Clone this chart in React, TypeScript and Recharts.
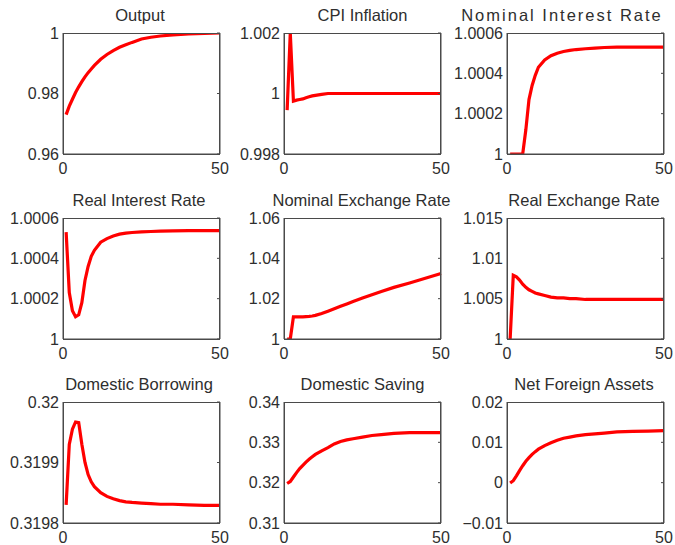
import React from 'react';
import { LineChart, Line, XAxis, YAxis } from 'recharts';

const periods = [1, 2, 3, 4, 5, 6, 7, 8, 9, 10, 12, 14, 16, 18, 20, 22, 25, 28, 31, 35, 40, 45, 50];

const output = [0.973, 0.9758, 0.9781, 0.9803, 0.9822, 0.9839, 0.9855, 0.9869, 0.9881, 0.9893, 0.9913, 0.9929, 0.9942, 0.9953, 0.9961, 0.9969, 0.998, 0.9986, 0.999, 0.9994, 0.9997, 0.9999, 1.0];
const cpiInflation = [0.99945, 1.002, 0.99975, 0.99978, 0.9998, 0.99982, 0.99986, 0.99989, 0.99992, 0.99994, 0.99997, 1.0, 1.0, 1.0, 1.0, 1.0, 1.0, 1.0, 1.0, 1.0, 1.0, 1.0, 1.0];
const nominalInterest = [1.0, 1.0, 1.0, 1.0, 1.0, 1.00012, 1.00027, 1.00034, 1.00039, 1.00043, 1.000466, 1.000487, 1.0005, 1.000508, 1.000514, 1.000518, 1.000522, 1.000525, 1.000528, 1.00053, 1.00053, 1.00053, 1.00053];
const realInterest = [1.00053, 1.00023, 1.00014, 1.00011, 1.00012, 1.00018, 1.00029, 1.00036, 1.00041, 1.00044, 1.00048, 1.000498, 1.000511, 1.00052, 1.000525, 1.000528, 1.000531, 1.000533, 1.000535, 1.000536, 1.000537, 1.000537, 1.000537];
const nominalExchange = [1.0, 1.0, 1.011, 1.011, 1.011, 1.011, 1.0111, 1.0112, 1.0114, 1.0117, 1.0126, 1.0138, 1.015, 1.0162, 1.0174, 1.0186, 1.0203, 1.022, 1.0236, 1.0256, 1.0278, 1.0301, 1.0325];
const realExchange = [1.0, 1.0079, 1.0077, 1.0073, 1.0068, 1.0064, 1.0061, 1.0059, 1.0057, 1.0056, 1.0054, 1.0052, 1.0051, 1.0051, 1.005, 1.005, 1.0049, 1.0049, 1.0049, 1.0049, 1.0049, 1.0049, 1.0049];
const domesticBorrowing = [0.31983, 0.31993, 0.319955, 0.319967, 0.319966, 0.31993, 0.3199, 0.31988, 0.319868, 0.31986, 0.31985, 0.319844, 0.31984, 0.319837, 0.319835, 0.319834, 0.319833, 0.319832, 0.319831, 0.319831, 0.31983, 0.319829, 0.319829];
const domesticSaving = [0.3198, 0.3203, 0.3214, 0.3225, 0.3235, 0.3243, 0.3251, 0.3258, 0.3264, 0.327, 0.3279, 0.3287, 0.3296, 0.3302, 0.3306, 0.3309, 0.3313, 0.3317, 0.3319, 0.3322, 0.3324, 0.3324, 0.3324];
const netForeignAssets = [-0.0001, 0.0005, 0.0017, 0.003, 0.0042, 0.0053, 0.0062, 0.007, 0.0077, 0.0083, 0.0092, 0.0099, 0.0105, 0.011, 0.0113, 0.0116, 0.0119, 0.0121, 0.0123, 0.0126, 0.0127, 0.0128, 0.0129];

const titles = ['Output', 'CPI Inflation', 'Nominal Interest Rate', 'Real Interest Rate', 'Nominal Exchange Rate', 'Real Exchange Rate', 'Domestic Borrowing', 'Domestic Saving', 'Net Foreign Assets'];
const seriesList = [output, cpiInflation, nominalInterest, realInterest, nominalExchange, realExchange, domesticBorrowing, domesticSaving, netForeignAssets];
const yTicks = [
  [0.96, 0.98, 1],
  [0.998, 1, 1.002],
  [1, 1.0002, 1.0004, 1.0006],
  [1, 1.0002, 1.0004, 1.0006],
  [1, 1.02, 1.04, 1.06],
  [1, 1.005, 1.01, 1.015],
  [0.3198, 0.3199, 0.32],
  [0.31, 0.32, 0.33, 0.34],
  [-0.01, 0, 0.01, 0.02],
];
const xTicks = [0, 50];

const colLefts = [63, 284, 507];
const rowTops = [33, 218, 402];
const titleCenters = [140, 362.5, 562, 139, 361.5, 584, 139, 362.5, 584];
const titleSpacing = [0, 0, 2, 0, 0, 0, 0, 0, 0];

const PLOT_W = 156;
const PLOT_H = 121;
const Y_W = 62;
const TOP = 30;
const X_H = 25;
const RIGHT_AXIS_W = 1;
const RIGHT = 9;
const FONT = '"Liberation Sans", Arial, Helvetica, sans-serif';
const TEXT = '#2e2e2e';
const AXIS = '#4a4a4a';

const fmt = (v: number) => String(v).replace('-', '\u2212');
const blank = () => '';

function Panel({ idx }: { idx: number }) {
  const col = idx % 3;
  const row = Math.floor(idx / 3);
  const left = colLefts[col];
  const top = rowTops[row];
  const ticks = yTicks[idx];
  const domain: [number, number] = [ticks[0], ticks[ticks.length - 1]];
  const data = periods.map((t, i) => ({ t, v: seriesList[idx][i] }));
  return (
    <>
      <div
        style={{
          position: 'absolute',
          left: titleCenters[idx] - 150,
          width: 300,
          top: top - 28,
          height: 20,
          lineHeight: '20px',
          textAlign: 'center',
          fontFamily: FONT,
          fontSize: 16.5,
          color: TEXT,
          letterSpacing: titleSpacing[idx],
          whiteSpace: 'nowrap',
        }}
      >
        {titles[idx]}
      </div>
      <div style={{ position: 'absolute', left: left - Y_W, top: top - TOP }}>
        <LineChart
          width={Y_W + PLOT_W + RIGHT_AXIS_W + RIGHT}
          height={TOP + PLOT_H + X_H}
          data={data}
          margin={{ top: TOP, right: RIGHT, bottom: 0, left: 0 }}
        >
          <XAxis
            dataKey="t"
            type="number"
            domain={[0, 50]}
            ticks={xTicks}
            interval={0}
            height={X_H}
            tickLine={false}
            tickSize={0}
            tickMargin={9}
            axisLine={{ stroke: AXIS, strokeWidth: 1 }}
            tick={{ fill: TEXT, fontSize: 16, fontFamily: FONT }}
          />
          <YAxis
            type="number"
            domain={domain}
            ticks={ticks}
            interval={0}
            allowDataOverflow
            width={Y_W}
            tickLine={false}
            tickSize={0}
            tickMargin={4}
            tickFormatter={fmt}
            axisLine={{ stroke: AXIS, strokeWidth: 1 }}
            tick={{ fill: TEXT, fontSize: 16, fontFamily: FONT }}
          />
          <YAxis
            yAxisId="right"
            orientation="right"
            type="number"
            domain={domain}
            ticks={ticks}
            interval={0}
            allowDataOverflow
            width={RIGHT_AXIS_W}
            mirror
            tickSize={3}
            tickFormatter={blank}
            tickLine={{ stroke: AXIS, strokeWidth: 1 }}
            axisLine={{ stroke: AXIS, strokeWidth: 1 }}
          />
          <Line
            yAxisId="right"
            type="linear"
            dataKey="v"
            stroke="none"
            strokeOpacity={0}
            dot={false}
            activeDot={false}
            isAnimationActive={false}
          />
          <Line
            type="linear"
            dataKey="v"
            stroke="#ff0000"
            strokeWidth={3.2}
            dot={false}
            isAnimationActive={false}
          />
        </LineChart>
        <div
          style={{
            position: 'absolute',
            left: Y_W - 0.5,
            top: TOP - 0.5,
            width: PLOT_W + 1,
            height: PLOT_H + 1,
            border: `1px solid ${AXIS}`,
            pointerEvents: 'none',
            boxSizing: 'border-box',
          }}
        />
      </div>
    </>
  );
}

export default function App() {
  return (
    <div style={{ position: 'absolute', left: 0, top: 0, width: 675, height: 545, background: '#fff' }}>
      {titles.map((_, i) => (
        <Panel key={i} idx={i} />
      ))}
    </div>
  );
}
